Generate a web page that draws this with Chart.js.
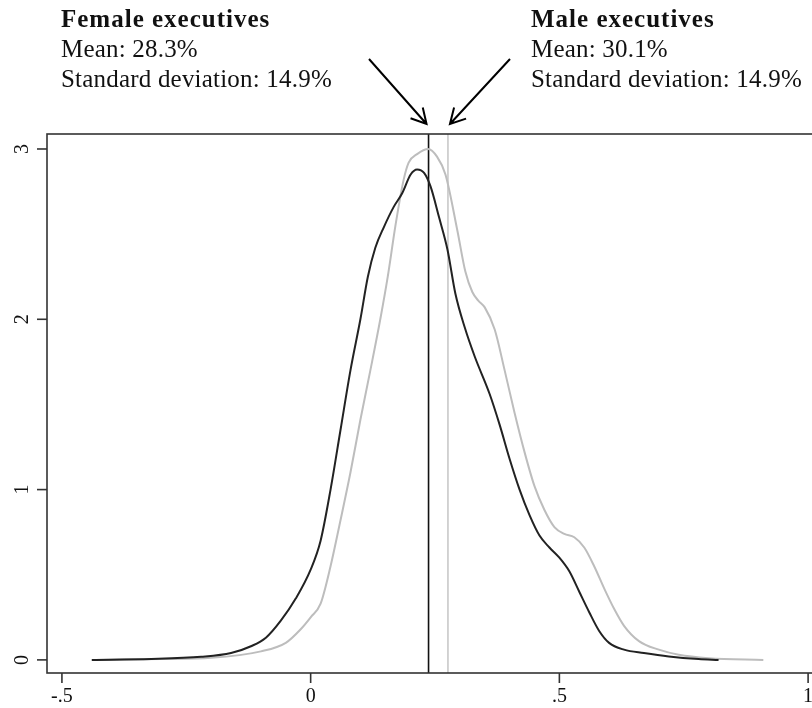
<!DOCTYPE html>
<html>
<head>
<meta charset="utf-8">
<script src="https://cdn.jsdelivr.net/npm/chart.js@4/dist/chart.umd.min.js"></script>
<style>
  html, body { margin: 0; padding: 0; background: #fff; overflow: hidden; }
  #wrap { width: 832px; height: 708px; position: relative; }
</style>
</head>
<body>
<div id="wrap"><canvas id="densityChart"></canvas></div>
<script>
// density curves
const femaleX = [-0.44, -0.32, -0.22, -0.16, -0.12, -0.09, -0.06, -0.03, 0.0, 0.02, 0.04, 0.06, 0.08, 0.10, 0.115, 0.13, 0.147, 0.167, 0.184, 0.201, 0.214, 0.228, 0.241, 0.258, 0.275, 0.291, 0.31, 0.33, 0.36, 0.38, 0.40, 0.42, 0.44, 0.46, 0.48, 0.50, 0.52, 0.54, 0.56, 0.58, 0.60, 0.63, 0.67, 0.72, 0.78, 0.82];
const femaleY = [0.0, 0.005, 0.018, 0.04, 0.08, 0.13, 0.23, 0.36, 0.53, 0.70, 1.0, 1.35, 1.70, 2.0, 2.25, 2.42, 2.54, 2.66, 2.74, 2.85, 2.88, 2.86, 2.78, 2.60, 2.41, 2.15, 1.95, 1.78, 1.56, 1.38, 1.18, 1.0, 0.85, 0.73, 0.66, 0.60, 0.52, 0.40, 0.28, 0.17, 0.10, 0.06, 0.04, 0.02, 0.005, 0.0];

const maleX = [-0.43, -0.3, -0.2, -0.1, -0.05, -0.02, 0.0, 0.02, 0.04, 0.06, 0.08, 0.10, 0.12, 0.14, 0.155, 0.171, 0.187, 0.197, 0.214, 0.236, 0.254, 0.271, 0.295, 0.311, 0.325, 0.337, 0.35, 0.37, 0.39, 0.41, 0.43, 0.45, 0.47, 0.49, 0.51, 0.53, 0.55, 0.57, 0.59, 0.61, 0.63, 0.66, 0.70, 0.74, 0.80, 0.91];
const maleY = [0.0, 0.005, 0.012, 0.05, 0.10, 0.18, 0.25, 0.33, 0.55, 0.82, 1.10, 1.41, 1.70, 2.0, 2.25, 2.56, 2.82, 2.92, 2.97, 3.0, 2.955, 2.85, 2.52, 2.28, 2.16, 2.11, 2.07, 1.94, 1.70, 1.45, 1.22, 1.02, 0.88, 0.78, 0.74, 0.72, 0.66, 0.55, 0.42, 0.30, 0.20, 0.11, 0.06, 0.03, 0.01, 0.0];

// vertical reference lines
const femaleLine = 0.237;
const maleLine = 0.276;

const xTicks = [-0.5, 0, 0.5, 1];
const xTickLabels = ['-.5', '0', '.5', '1'];
const yTicks = [0, 1, 2, 3];
const yTickLabels = ['0', '1', '2', '3'];

const femaleText = ['Female executives', 'Mean: 28.3%', 'Standard deviation: 14.9%'];
const maleText = ['Male executives', 'Mean: 30.1%', 'Standard deviation: 14.9%'];

const xMin = -0.53, xMax = 1.04, yMin = -0.077, yMax = 3.088;

const pts = (xs, ys) => xs.map((x, i) => ({ x: x, y: ys[i] }));

const serif = "'Liberation Serif', 'Times New Roman', serif";

function arrow(ctx, x1, y1, x2, y2) {
    const ang = Math.atan2(y2 - y1, x2 - x1);
    const len = 17, spread = 0.5;
    ctx.beginPath();
    ctx.moveTo(x1, y1);
    ctx.lineTo(x2, y2);
    ctx.moveTo(x2 - len * Math.cos(ang - spread), y2 - len * Math.sin(ang - spread));
    ctx.lineTo(x2, y2);
    ctx.lineTo(x2 - len * Math.cos(ang + spread), y2 - len * Math.sin(ang + spread));
    ctx.stroke();
}

// frame, ticks, text blocks and arrows
const decorPlugin = {
    id: 'decor',
    afterDraw(chart) {
        const ctx = chart.ctx;
        const a = chart.chartArea;
        const xs = chart.scales.x, ys = chart.scales.y;
        ctx.save();
        ctx.strokeStyle = '#333';
        ctx.lineWidth = 1.6;
        ctx.strokeRect(a.left, a.top, a.right - a.left, a.bottom - a.top);

        ctx.fillStyle = '#111';
        ctx.font = '20px ' + serif;
        // x ticks
        ctx.textAlign = 'center';
        ctx.textBaseline = 'middle';
        xTicks.forEach((v, i) => {
            const px = xs.getPixelForValue(v);
            ctx.beginPath();
            ctx.moveTo(px, a.bottom);
            ctx.lineTo(px, a.bottom + 10);
            ctx.stroke();
            ctx.fillText(xTickLabels[i], px, a.bottom + 24);
        });
        // y ticks, labels turned
        yTicks.forEach((v, i) => {
            const py = ys.getPixelForValue(v);
            ctx.beginPath();
            ctx.moveTo(a.left - 10, py);
            ctx.lineTo(a.left, py);
            ctx.stroke();
            ctx.save();
            ctx.translate(a.left - 24, py);
            ctx.rotate(-Math.PI / 2);
            ctx.fillText(yTickLabels[i], 0, 0);
            ctx.restore();
        });

        // annotation text
        ctx.textAlign = 'left';
        ctx.textBaseline = 'alphabetic';
        const lineY = [27, 57, 87];
        [[femaleText, 61], [maleText, 531]].forEach(([lines, x0]) => {
            lines.forEach((t, i) => {
                ctx.font = (i === 0 ? 'bold ' : '') + '25px ' + serif;
                ctx.letterSpacing = i === 0 ? '1px' : '0.2px';
                ctx.fillText(t, x0, lineY[i]);
            });
        });
        ctx.letterSpacing = '0px';

        // arrows pointing at the two lines
        ctx.strokeStyle = '#000';
        ctx.lineWidth = 2;
        const fx = xs.getPixelForValue(femaleLine);
        const mx = xs.getPixelForValue(maleLine);
        arrow(ctx, 369, 59, fx - 2, a.top - 10);
        arrow(ctx, 510, 59, mx + 2, a.top - 10);
        ctx.restore();
    }
};

new Chart(document.getElementById('densityChart'), {
    type: 'line',
    data: {
        datasets: [
            {
                label: 'Female',
                data: pts(femaleX, femaleY),
                borderColor: '#222',
                borderWidth: 2,
                pointRadius: 0,
                cubicInterpolationMode: 'monotone'
            },
            {
                label: 'Male',
                data: pts(maleX, maleY),
                borderColor: '#bdbdbd',
                borderWidth: 2,
                pointRadius: 0,
                cubicInterpolationMode: 'monotone'
            },
            {
                label: 'Female line',
                data: [{ x: femaleLine, y: yMin }, { x: femaleLine, y: yMax }],
                borderColor: '#111',
                borderWidth: 1.6,
                pointRadius: 0
            },
            {
                label: 'Male line',
                data: [{ x: maleLine, y: yMin }, { x: maleLine, y: yMax }],
                borderColor: '#c8c8c8',
                borderWidth: 1.6,
                pointRadius: 0
            }
        ]
    },
    options: {
        responsive: true,
        maintainAspectRatio: false,
        animation: false,
        layout: { padding: { left: 47, top: 134, right: 4, bottom: 35 } },
        plugins: {
            legend: { display: false },
            tooltip: { enabled: false }
        },
        scales: {
            x: { type: 'linear', min: xMin, max: xMax, display: false },
            y: { type: 'linear', min: yMin, max: yMax, display: false }
        }
    },
    plugins: [decorPlugin]
});
</script>
</body>
</html>
